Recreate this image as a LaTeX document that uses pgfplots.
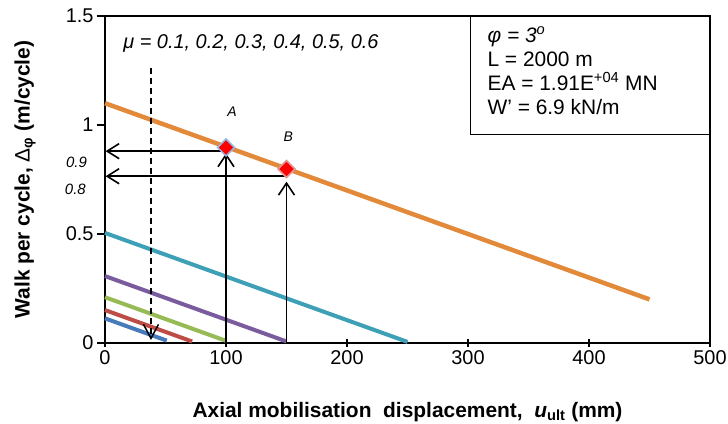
\documentclass[border=0pt]{standalone}
\usepackage{pgfplots}
\pgfplotsset{compat=1.18}
\usepackage{fontspec}
\setmainfont{Liberation Sans}
\usetikzlibrary{arrows.meta}
\definecolor{corange}{RGB}{226,137,58}
\definecolor{cteal}{RGB}{62,160,182}
\definecolor{cpurple}{RGB}{122,92,158}
\definecolor{cgreen}{RGB}{150,186,84}
\definecolor{cred}{RGB}{190,76,70}
\definecolor{cblue}{RGB}{70,122,186}
\begin{document}
\begin{tikzpicture}
\begin{axis}[
  scale only axis, width=605bp, height=327bp,
  xmin=0, xmax=500, ymin=0, ymax=1.5,
  xtick={0,100,200,300,400,500}, ytick={0,0.5,1,1.5},
  xtick pos=bottom, ytick pos=left,
  xtick align=center, ytick align=outside,
  major tick length=8bp,
  axis line style={line width=1.6bp},
  every tick/.style={black, line width=1.3bp},
  tick label style={font=\fontsize{20}{22}\selectfont},
  /pgf/number format/assume math mode=true,
  xlabel={\bfseries Axial mobilisation\ \ displacement,\ \ \textit{u}\textsubscript{ult} (mm)},
  ylabel={{\bfseries Walk per cycle, }Δ\textsubscript{\bfseries φ}{\bfseries\ (m/cycle)}},
  label style={font=\fontsize{21}{24}\selectfont},
  xlabel style={at={(axis description cs:0.5,-0.211)}, anchor=center},
  ylabel style={at={(axis description cs:-0.132,0.5)}, anchor=center},
  clip=false,
]
\addplot[corange, line width=4.5bp] coordinates {(0,1.1) (100,0.9) (150,0.8) (450,0.2)};
\addplot[cteal, line width=4bp] coordinates {(0,0.505) (250,0.005)};
\addplot[cpurple, line width=4bp] coordinates {(0,0.307) (150,0.007)};
\addplot[cgreen, line width=4bp] coordinates {(0,0.21) (100,0.01)};
\addplot[cred, line width=4bp] coordinates {(0,0.151) (72,0.007)};
\addplot[cblue, line width=4bp] coordinates {(0,0.113) (51,0.011)};
% arrows
\addplot[black, line width=1.6bp, -{Straight Barb[length=12bp,width=16bp]}] coordinates {(100,0) (100,0.87)};
\addplot[black, line width=1.6bp, -{Straight Barb[length=12bp,width=16bp]}] coordinates {(150,0) (150,0.74)};
\addplot[black, line width=1.6bp, -{Straight Barb[length=12bp,width=15bp]}] coordinates {(100,0.88) (0.5,0.88)};
\addplot[black, line width=1.6bp, -{Straight Barb[length=12bp,width=15bp]}] coordinates {(150,0.765) (0.5,0.765)};
\addplot[black, line width=1.5bp, dash pattern=on 6bp off 4bp, -{Straight Barb[length=14bp,width=15bp]}] coordinates {(38,1.26) (38,0.014)};
% markers
\addplot[only marks, mark=square*, mark size=6bp, mark options={rotate=45, fill=red, draw={rgb,255:red,150;green,180;blue,225}, line width=1.5bp}] coordinates {(100,0.897)};
\addplot[only marks, mark=square*, mark size=6bp, mark options={rotate=45, fill=red, draw={rgb,255:red,225;green,150;blue,150}, line width=1.5bp}] coordinates {(150,0.798)};
% texts
\node[anchor=west, font=\itshape\fontsize{20}{22}\selectfont, inner sep=0pt] at (axis cs:15,1.375) {μ = 0.1, 0.2, 0.3, 0.4, 0.5, 0.6};
\node[font=\itshape\fontsize{14}{16}\selectfont] at (axis cs:105,1.06) {A};
\node[font=\itshape\fontsize{14}{16}\selectfont] at (axis cs:151.5,0.945) {B};
\node[font=\itshape\fontsize{15}{17}\selectfont] at (axis cs:-23.5,0.83) {0.9};
\node[font=\itshape\fontsize{15}{17}\selectfont] at (axis cs:-24.5,0.705) {0.8};
\draw[black, line width=0.8bp] (axis cs:302,0.955) rectangle (axis cs:500,1.5);
\node[anchor=north west, align=left, font=\fontsize{21}{24}\selectfont, inner sep=0pt] at (axis cs:316,1.45)
  {\textit{φ = 3\textsuperscript{o}}\\L = 2000 m\\EA = 1.91E\textsuperscript{+04} MN\\W' = 6.9 kN/m};
\end{axis}
\pgfresetboundingbox
\path[use as bounding box] ([xshift=-105bp,yshift=-80bp]current axis.south west) rectangle ([xshift=18bp,yshift=16bp]current axis.north east);
\end{tikzpicture}
\end{document}
